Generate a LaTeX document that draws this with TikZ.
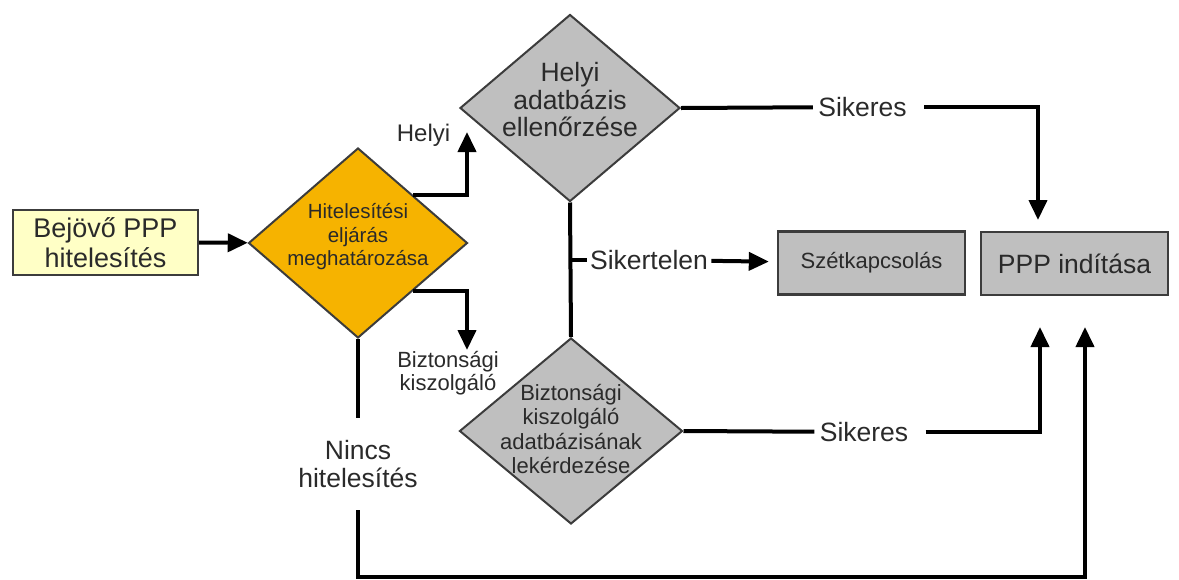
\documentclass[tikz,border=0pt]{standalone}
\usepackage{fontspec}
\setmainfont{Liberation Sans}
\usetikzlibrary{shapes.geometric,arrows.meta}

\definecolor{inyellow}{HTML}{FFFFC6}
\definecolor{authorange}{HTML}{F6B300}
\definecolor{boxgray}{HTML}{BFBFBF}
\definecolor{edgegray}{HTML}{3C3C3C}
\definecolor{textgray}{HTML}{2A2A2A}

\begin{document}
\begin{tikzpicture}[x=0.5pt,y=-0.5pt,
  box/.style={rectangle,draw=edgegray,line width=1.2pt,minimum width=93.5pt,minimum height=31.5pt,inner sep=0pt,align=center,text=textgray},
  dec/.style={diamond,draw=edgegray,line width=1pt,inner sep=0pt},
  conn/.style={line width=2pt,-{Triangle[length=10pt,width=9pt]}},
  wire/.style={line width=2pt},
  lbl/.style={align=center,text=textgray,inner sep=2.5pt},
  txtbig/.style={font=\fontsize{13.25}{14}\selectfont},
  txtsmall/.style={font=\fontsize{11}{12.25}\selectfont}]
\useasboundingbox (0,0) rectangle (1179,579);

\node[box,fill=inyellow,minimum width=92.5pt,minimum height=32.5pt,font=\fontsize{13.5}{15}\selectfont] (in) at (105.5,242.5) {Bejövő PPP\\hitelesítés};
\node[dec,fill=authorange,minimum width=109.5pt,minimum height=95pt,
  label={[lbl,yshift=3pt,font=\fontsize{10.25}{11.75}\selectfont]center:{Hitelesítési\\eljárás\\meghatározása}}] (auth) at (358,243) {};
\node[dec,fill=boxgray,minimum width=110pt,minimum height=93.5pt,
  label={[lbl,yshift=4pt,font=\fontsize{13.25}{13.75}\selectfont]center:{Helyi\\adatbázis\\ellenőrzése}}] (local) at (570,108) {};
\node[dec,fill=boxgray,minimum width=111.5pt,minimum height=93pt,
  label={[lbl,yshift=1pt,txtsmall]center:{Biztonsági\\kiszolgáló\\adatbázisának\\lekérdezése}}] (radius) at (571,431) {};
\node[box,fill=boxgray,txtsmall] (disc) at (871.5,263) {Szétkapcsolás};
\node[box,fill=boxgray,txtbig] (ppp) at (1074.5,263.5) {PPP indítása};

\node[lbl,font=\fontsize{12}{14}\selectfont] (lhelyi) at (423.5,135) {Helyi};
\node[lbl,font=\fontsize{11}{11.5}\selectfont] (lbizt) at (448,373) {Biztonsági\\kiszolgáló};
\node[lbl,txtbig,inner sep=0pt,minimum height=46pt] (lnone) at (358,464) {Nincs\\hitelesítés};
\node[lbl,txtbig] (ok1) at (862.5,107) {Sikeres};
\node[lbl,txtbig] (ok2) at (864,432) {Sikeres};
\node[lbl,txtbig,inner sep=1.5pt] (fail) at (649,260) {Sikertelen};

\coordinate (helyiend) at (467,132);
\coordinate (biztend) at (467,350);
\coordinate (pppin1) at (1038,220);
\coordinate (pppin2) at (1040,327);
\coordinate (pppin3) at (1085,327);

\draw[conn] (in) -- (auth);
\draw[conn] (auth.north east) -| (helyiend);
\draw[conn] (auth.south east) -| (biztend);
\draw[wire] (auth.south) -- (lnone.north);
\draw[conn] (lnone.south) -- ++(0,67) -| (pppin3);

\draw[wire] (local.south) -- (radius.north);
\draw[wire] (fail.west) -- (local.south |- fail.west);
\draw[conn,shorten >=4pt] (fail) -- (disc);

\draw[wire] (local.east) -- (ok1);
\draw[conn,shorten <=6pt] (ok1) -| (pppin1);
\draw[wire] (radius.east) -- (ok2);
\draw[conn,shorten <=6pt] (ok2) -| (pppin2);
\end{tikzpicture}
\end{document}
